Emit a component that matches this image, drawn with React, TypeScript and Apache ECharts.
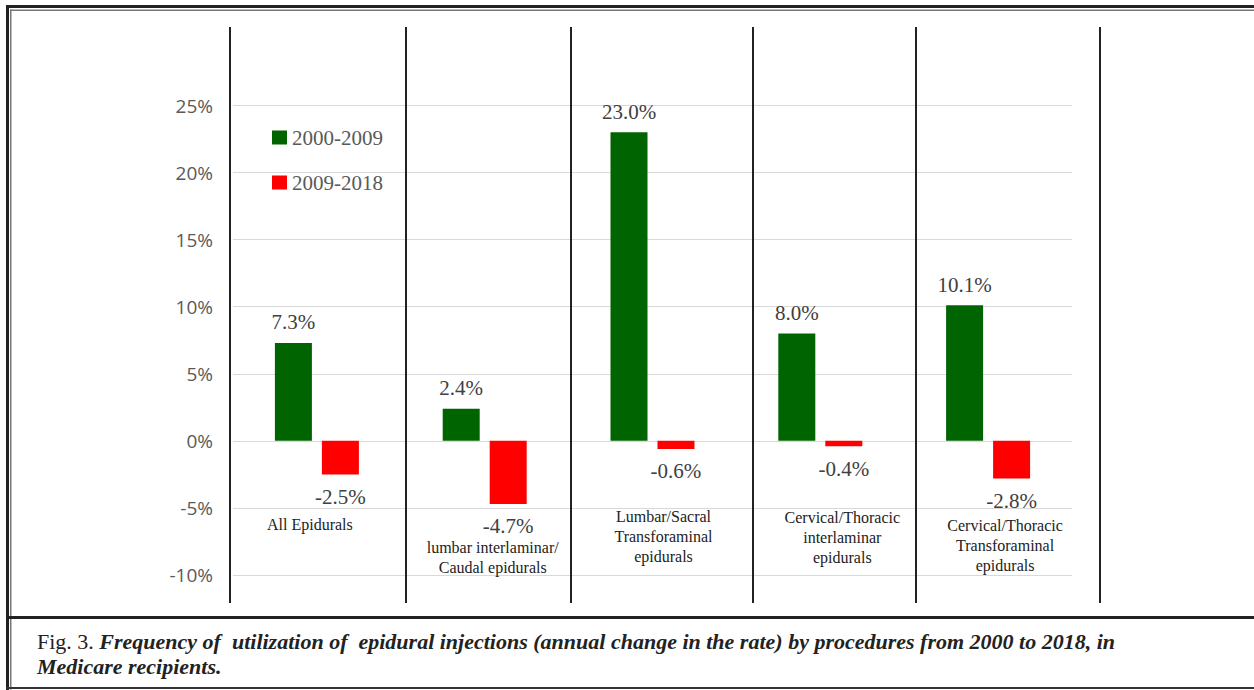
import React, { useEffect, useRef } from "react";
import * as echarts from "echarts";

const categories = [
  "All Epidurals",
  "lumbar interlaminar/\nCaudal epidurals",
  "Lumbar/Sacral\nTransforaminal\nepidurals",
  "Cervical/Thoracic\ninterlaminar\nepidurals",
  "Cervical/Thoracic\nTransforaminal\nepidurals",
];
const seriesNames = ["2000-2009", "2009-2018"];
const values2000to2009 = [7.3, 2.4, 23.0, 8.0, 10.1];
const values2009to2018 = [-2.5, -4.7, -0.6, -0.4, -2.8];
const yMin = -10;
const yMax = 25;
const yInterval = 5;

const captionLead = "Fig. 3.";
const captionLine1 =
  "Frequency of  utilization of  epidural injections (annual change in the rate) by procedures from 2000 to 2018, in";
const captionLine2 = "Medicare recipients.";

// layout only
const catLabelDx = [-7, 8, 11, 22, 17];
const catLabelTop = [74, 97, 66, 67, 75];
const separatorsX = [230, 406, 571, 753, 916, 1100];

const SERIF = "'Liberation Serif', 'Times New Roman', serif";
const SANS = "'Open Sans', 'Noto Sans', sans-serif";

export default function App() {
  const ref = useRef<HTMLDivElement>(null);
  useEffect(() => {
    const el = ref.current;
    if (!el) return;
    const chart = echarts.init(el, null, { renderer: "svg" });
    const option: any = {
      animation: false,
      backgroundColor: "#ffffff",
      grid: { left: 233, right: 182, top: 105.5, bottom: 115, containLabel: false },
      legend: {
        orient: "vertical",
        left: 272,
        top: 127,
        padding: 0,
        itemWidth: 15,
        itemHeight: 14,
        itemGap: 24,
        itemStyle: { borderWidth: 0 },
        icon: "rect",
        textStyle: { fontFamily: SERIF, fontSize: 21, color: "#595959" },
        data: seriesNames,
      },
      xAxis: {
        type: "category",
        data: categories,
        axisLine: { show: false, onZero: true },
        axisTick: { show: false },
        axisLabel: { show: false },
        splitLine: { show: false },
      },
      yAxis: {
        type: "value",
        min: yMin,
        max: yMax,
        interval: yInterval,
        axisLine: { show: false },
        axisTick: { show: false },
        axisLabel: {
          formatter: (v: number) => `${v}%`,
          fontFamily: SANS,
          fontSize: 19,
          color: "#595959",
          margin: 20,
        },
        splitLine: { lineStyle: { color: "#d9d9d9", width: 1 } },
      },
      series: [
        {
          name: seriesNames[0],
          type: "bar",
          data: values2000to2009,
          barWidth: 37,
          barGap: "27%",
          itemStyle: { color: "#006400" },
          label: {
            show: true,
            position: "top",
            distance: 10,
            formatter: (p: any) => `${Number(p.value).toFixed(1)}%`,
            fontFamily: SERIF,
            fontSize: 21,
            color: "#404040",
          },
        },
        {
          name: seriesNames[1],
          type: "bar",
          data: values2009to2018,
          barWidth: 37,
          itemStyle: { color: "#ff0000" },
          label: {
            show: true,
            position: "bottom",
            distance: 12,
            formatter: (p: any) => `${Number(p.value).toFixed(1)}%`,
            fontFamily: SERIF,
            fontSize: 21,
            color: "#404040",
          },
        },
      ],
    };
    chart.setOption(option);

    const zeroY = chart.convertToPixel({ yAxisIndex: 0 }, 0) as number;
    const elements: any[] = [];
    // frame
    elements.push({ type: "rect", shape: { x: 6, y: 5, width: 1248, height: 3 }, style: { fill: "#222" }, silent: true });
    elements.push({ type: "rect", shape: { x: 10, y: 9.5, width: 1244, height: 1.5 }, style: { fill: "#777" }, silent: true });
    elements.push({ type: "rect", shape: { x: 6, y: 5, width: 3, height: 685 }, style: { fill: "#222" }, silent: true });
    elements.push({ type: "rect", shape: { x: 10, y: 9.5, width: 1.5, height: 680 }, style: { fill: "#777" }, silent: true });
    elements.push({ type: "rect", shape: { x: 6, y: 616, width: 1248, height: 3 }, style: { fill: "#222" }, silent: true });
    elements.push({ type: "rect", shape: { x: 6, y: 687, width: 1248, height: 2 }, style: { fill: "#333" }, silent: true });
    // separators
    separatorsX.forEach((x) => {
      elements.push({
        type: "line",
        shape: { x1: x, y1: 27, x2: x, y2: 603 },
        style: { stroke: "#222", lineWidth: 2 },
        silent: true,
      });
    });
    // category labels
    categories.forEach((c, i) => {
      const cx = chart.convertToPixel({ xAxisIndex: 0 }, c) as number;
      elements.push({
        type: "text",
        x: cx + catLabelDx[i],
        y: zeroY + catLabelTop[i],
        style: {
          text: c,
          fontFamily: SERIF,
          fontSize: 16,
          lineHeight: 20,
          fill: "#222",
          align: "center",
          verticalAlign: "top",
        },
        silent: true,
      });
    });
    // caption
    elements.push({
      type: "text",
      x: 37,
      y: 628.5,
      style: {
        text: `{n|${captionLead}} {i|${captionLine1}}\n{i|${captionLine2}}`,
        fontFamily: SERIF,
        fontSize: 22,
        lineHeight: 25,
        fill: "#222",
        align: "left",
        verticalAlign: "top",
        rich: {
          n: { fontFamily: SERIF, fontSize: 22, lineHeight: 25, fill: "#222" },
          i: {
            fontFamily: SERIF,
            fontSize: 22,
            lineHeight: 25,
            fontStyle: "italic",
            fontWeight: "bold",
            fill: "#222",
          },
        },
      },
      silent: true,
    });
    chart.setOption({ graphic: { elements } });
    return () => chart.dispose();
  }, []);
  return (
    <div
      ref={ref}
      style={{ position: "fixed", left: 0, top: 0, width: 1254, height: 690, background: "#fff" }}
    />
  );
}
